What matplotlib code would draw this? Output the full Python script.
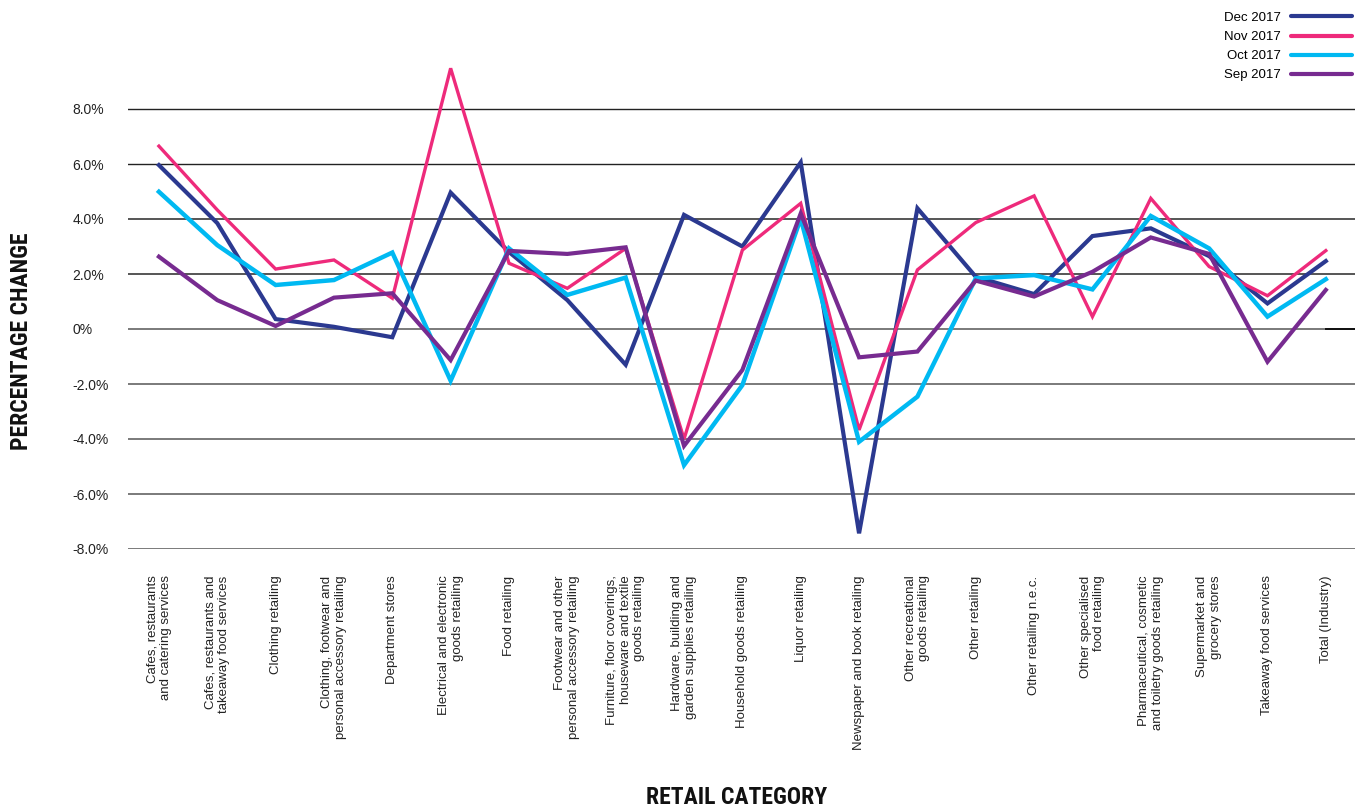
import matplotlib
matplotlib.use("Agg")
import matplotlib.pyplot as plt
from matplotlib import font_manager
from matplotlib.font_manager import FontProperties
import numpy as np
import os

categories = [
    "Cafes, restaurants\nand catering services",
    "Cafes, restaurants and\ntakeaway food services",
    "Clothing retailing",
    "Clothing, footwear and\npersonal accessory retailing",
    "Department stores",
    "Electrical and electronic\ngoods retailing",
    "Food retailing",
    "Footwear and other\npersonal accessory retailing",
    "Furniture, floor coverings,\nhouseware and textile\ngoods retailing",
    "Hardware, building and\ngarden supplies retailing",
    "Household goods retailing",
    "Liquor retailing",
    "Newspaper and book retailing",
    "Other recreational\ngoods retailing",
    "Other retailing",
    "Other retailing n.e.c.",
    "Other specialised\nfood retailing",
    "Pharmaceutical, cosmetic\nand toiletry goods retailing",
    "Supermarket and\ngrocery stores",
    "Takeaway food services",
    "Total (Industry)",
]

dec_2017 = [5.96, 3.85, 0.36, 0.08, -0.30, 4.96, 2.80, 1.05, -1.30, 4.15, 3.00, 6.06,
            -7.43, 4.39, 1.90, 1.27, 3.38, 3.66, 2.65, 0.93, 2.47]
nov_2017 = [6.65, 4.33, 2.18, 2.51, 1.12, 9.48, 2.39, 1.48, 2.93, -4.00, 2.87, 4.57,
            -3.67, 2.15, 3.87, 4.84, 0.45, 4.75, 2.27, 1.21, 2.85]
oct_2017 = [4.99, 3.05, 1.60, 1.78, 2.78, -1.88, 2.93, 1.24, 1.87, -4.95, -2.04, 4.02,
            -4.10, -2.46, 1.84, 1.96, 1.44, 4.11, 2.93, 0.45, 1.81]
sep_2017 = [2.63, 1.05, 0.11, 1.14, 1.30, -1.13, 2.84, 2.73, 2.97, -4.25, -1.49, 4.20,
            -1.03, -0.82, 1.76, 1.18, 2.08, 3.33, 2.73, -1.19, 1.42]

series_labels = ["Dec 2017", "Nov 2017", "Oct 2017", "Sep 2017"]
series_values = [dec_2017, nov_2017, oct_2017, sep_2017]
series_colors = ["#2b3990", "#ee2a7b", "#00b9f2", "#772b90"]
series_widths = [3.0, 2.4, 3.2, 3.0]

yticks = [-8, -6, -4, -2, 0, 2, 4, 6, 8]
ytick_labels = ["-8.0%", "-6.0%", "-4.0%", "-2.0%", "0%", "2.0%", "4.0%", "6.0%", "8.0%"]

plt.rcParams['font.family'] = ['Liberation Sans', 'DejaVu Sans']

# find a condensed bold face for the axis titles
cand_order = ["liberationsansnarrow-bold", "robotocondensed-bold",
              "opensans_condensed-bold", "opensanscondensed-bold", "dejavusanscondensed-bold"]
files = {os.path.basename(f.fname).lower().replace(" ", ""): f.fname
         for f in font_manager.fontManager.ttflist}
title_fp = None
title_size = 16
for cand in cand_order:
    for key, path in files.items():
        if key.startswith(cand) and "italic" not in key and "oblique" not in key:
            title_fp = FontProperties(fname=path)
            title_size = 15.5 if "dejavu" in cand else 17
            break
    if title_fp is not None:
        break
if title_fp is None:
    title_fp = FontProperties(family='DejaVu Sans', weight='bold')
    title_size = 14
title_fp.set_size(title_size)

fig = plt.figure(figsize=(13.65, 8.07), dpi=100)
ax = fig.add_axes([128 / 1365, 1 - 549 / 807, (1355 - 128) / 1365, (549 - 54) / 807])

x = np.arange(len(categories))

for yt in yticks:
    c = "#222222" if yt >= 6 else ("#555555" if yt >= 2 else "#7a7a7a")
    lw = 1.0 if yt >= 6 else 1.4
    ax.axhline(yt, color=c, lw=lw, zorder=1)
ax.plot([len(categories) - 1, len(categories) - 0.5], [0, 0], color="#111111", lw=1.4, zorder=1)

for vals, lab, col, lw in zip(series_values, series_labels, series_colors, series_widths):
    ax.plot(x, vals, color=col, lw=lw, label=lab, zorder=3, solid_joinstyle='miter')

ax.set_xlim(-0.53, len(categories) - 0.5)
ax.set_ylim(-8, 10)
ax.set_yticks(yticks)
ax.set_yticklabels(ytick_labels, fontsize=10, color="#222222")
for t in ax.get_yticklabels():
    t.set_horizontalalignment('left')
ax.tick_params(axis='y', length=0, pad=40)
ax.set_xticks(x)
ax.set_xticklabels(categories, rotation=90, fontsize=9.5, color="#222222",
                   ha='center', va='top', multialignment='right')
ax.tick_params(axis='x', length=0, pad=19)
for s in ax.spines.values():
    s.set_visible(False)

fig.text(0.0155, 1 - 341 / 807, "PERCENTAGE CHANGE", rotation=90, ha='center', va='center',
         color="#111111", fontproperties=title_fp)
fig.text(737 / 1365, 1 - 797 / 807, "RETAIL CATEGORY", ha='center', va='center',
         color="#111111", fontproperties=title_fp)

leg = fig.legend(loc='upper right', bbox_to_anchor=(1364 / 1365, 1 - 0 / 807), frameon=False,
                 markerfirst=False, fontsize=9.5, handlelength=4.6, labelspacing=0.52,
                 handletextpad=0.8)
for line in leg.get_lines():
    line.set_linewidth(3.0)
    line.set_solid_capstyle('round')

fig.savefig("out.png", dpi=100)
